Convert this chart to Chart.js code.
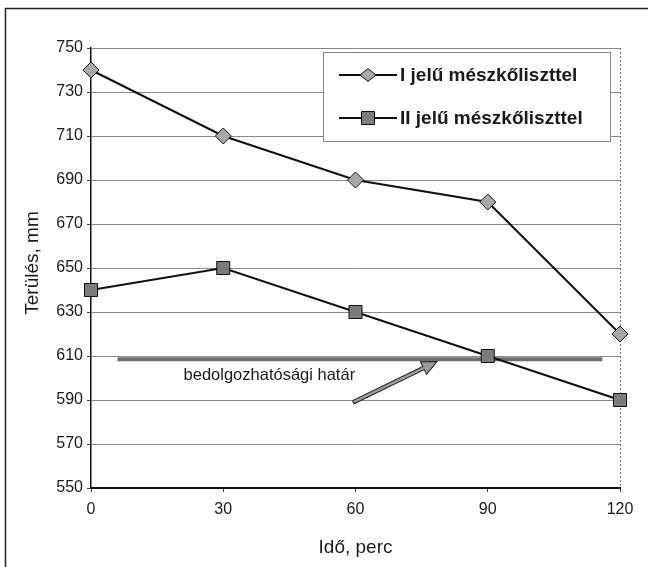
<!DOCTYPE html>
<html>
<head>
<meta charset="utf-8">
<script src="https://cdn.jsdelivr.net/npm/chart.js@4/dist/chart.umd.min.js"></script>
<style>
  html, body { margin: 0; padding: 0; background: #fff; }
  #wrap { width: 648px; height: 567px; }
</style>
</head>
<body>
<div id="wrap"><canvas id="c" width="648" height="567"></canvas></div>
<script>
// Idő (perc) and spread (mm) values
const timeMinutes = [0, 30, 60, 90, 120];
const seriesI = [740, 710, 690, 680, 620];
const seriesII = [640, 650, 630, 610, 590];
const seriesLabels = ['I jelű mészkőliszttel', 'II jelű mészkőliszttel'];

// workability limit line and its annotation
const limitValue = 608.5;
const limitFromTo = [6, 116];
const limitText = 'bedolgozhatósági határ';
const limitTextAt = [21, 601];
const arrowFrom = [59.5, 589];
const arrowTo = [78.5, 607.5];

// axis settings
const yMin = 550, yMax = 750, yStep = 20;
const xTitle = 'Idő, perc';
const yTitle = 'Terülés, mm';

const FONT = '"Liberation Sans", Arial, sans-serif';
const TXT = '#1a1a1a';

const toPts = (xs, ys) => xs.map((x, i) => ({ x: x, y: ys[i] }));

const decorations = {
  id: 'decorations',
  beforeDraw(chart) {
    const ctx = chart.ctx;
    ctx.save();
    ctx.fillStyle = '#fff';
    ctx.fillRect(0, 0, chart.width, chart.height);
    ctx.restore();
  },
  beforeDatasetsDraw(chart) {
    // dotted right edge of the plot
    const ctx = chart.ctx;
    const a = chart.chartArea;
    ctx.save();
    ctx.strokeStyle = '#777';
    ctx.lineWidth = 1;
    ctx.setLineDash([2, 2]);
    ctx.beginPath();
    ctx.moveTo(Math.round(a.right) + 0.5, a.top);
    ctx.lineTo(Math.round(a.right) + 0.5, a.bottom);
    ctx.stroke();
    ctx.restore();
  },
  afterDraw(chart) {
    const ctx = chart.ctx;
    const xs = chart.scales.x, ys = chart.scales.y;
    const a = chart.chartArea;
    ctx.save();

    // frame lines on top and left
    ctx.strokeStyle = '#222';
    ctx.lineWidth = 1.5;
    ctx.beginPath();
    ctx.moveTo(5.5, 567);
    ctx.lineTo(5.5, 8.5);
    ctx.lineTo(648, 8.5);
    ctx.stroke();

    // axis titles
    ctx.fillStyle = TXT;
    ctx.font = '19px ' + FONT;
    ctx.textAlign = 'center';
    ctx.textBaseline = 'middle';
    ctx.fillText(xTitle, (a.left + a.right) / 2, 548);
    ctx.save();
    ctx.translate(33, 263);
    ctx.rotate(-Math.PI / 2);
    ctx.fillText(yTitle, 0, 0);
    ctx.restore();

    // limit label
    ctx.font = '16.5px ' + FONT;
    ctx.textAlign = 'left';
    ctx.fillText(limitText, xs.getPixelForValue(limitTextAt[0]), ys.getPixelForValue(limitTextAt[1]));

    // block arrow pointing at the limit line
    const x0 = xs.getPixelForValue(arrowFrom[0]), y0 = ys.getPixelForValue(arrowFrom[1]);
    const x1 = xs.getPixelForValue(arrowTo[0]), y1 = ys.getPixelForValue(arrowTo[1]);
    const ang = Math.atan2(y1 - y0, x1 - x0);
    const len = Math.hypot(x1 - x0, y1 - y0);
    const headL = 15, headW = 7, shaftW = 1.8;
    ctx.save();
    ctx.translate(x0, y0);
    ctx.rotate(ang);
    ctx.beginPath();
    ctx.moveTo(0, -shaftW);
    ctx.lineTo(len - headL, -shaftW);
    ctx.lineTo(len - headL, -headW);
    ctx.lineTo(len, 0);
    ctx.lineTo(len - headL, headW);
    ctx.lineTo(len - headL, shaftW);
    ctx.lineTo(0, shaftW);
    ctx.closePath();
    ctx.fillStyle = '#9a9a9a';
    ctx.fill();
    ctx.strokeStyle = '#222';
    ctx.lineWidth = 1;
    ctx.stroke();
    ctx.restore();

    // legend box
    const bx = 323, by = 52, bw = 287, bh = 89;
    ctx.fillStyle = '#fff';
    ctx.fillRect(bx, by, bw, bh);
    ctx.strokeStyle = '#888';
    ctx.lineWidth = 1;
    ctx.strokeRect(bx + 0.5, by + 0.5, bw, bh);
    ctx.font = 'bold 19px ' + FONT;
    ctx.textBaseline = 'middle';
    ctx.textAlign = 'left';
    const rows = [75, 118];
    chart.data.datasets.slice(0, 2).forEach((ds, i) => {
      const yy = rows[i];
      ctx.strokeStyle = '#111';
      ctx.lineWidth = 2;
      ctx.beginPath();
      ctx.moveTo(339, yy);
      ctx.lineTo(397, yy);
      ctx.stroke();
      ctx.fillStyle = ds.pointBackgroundColor;
      ctx.strokeStyle = '#111';
      ctx.lineWidth = 1;
      ctx.beginPath();
      if (ds.pointStyle === 'rectRot') {
        const r = 8;
        ctx.moveTo(368 - r, yy);
        ctx.lineTo(368, yy - r * 0.8);
        ctx.lineTo(368 + r, yy);
        ctx.lineTo(368, yy + r * 0.8);
        ctx.closePath();
      } else {
        ctx.rect(368 - 6.5, yy - 6.5, 13, 13);
      }
      ctx.fill();
      ctx.stroke();
      ctx.fillStyle = TXT;
      ctx.fillText(ds.label, 400, yy + 1);
    });

    ctx.restore();
  }
};

new Chart(document.getElementById('c'), {
  type: 'line',
  data: {
    datasets: [
      {
        label: seriesLabels[0],
        data: toPts(timeMinutes, seriesI),
        borderColor: '#111',
        borderWidth: 2,
        pointStyle: 'rectRot',
        pointRadius: 8,
        pointBackgroundColor: '#a8a8a8',
        pointBorderColor: '#111',
        pointBorderWidth: 1,
        tension: 0,
        clip: false
      },
      {
        label: seriesLabels[1],
        data: toPts(timeMinutes, seriesII),
        borderColor: '#111',
        borderWidth: 2,
        pointStyle: 'rect',
        pointRadius: 9.2,
        pointBackgroundColor: '#7c7c7c',
        pointBorderColor: '#111',
        pointBorderWidth: 1,
        tension: 0,
        clip: false
      },
      {
        label: limitText,
        data: limitFromTo.map(x => ({ x: x, y: limitValue })),
        borderColor: '#6e6e6e',
        borderWidth: 4,
        pointRadius: 0,
        tension: 0
      }
    ]
  },
  options: {
    responsive: false,
    animation: false,
    devicePixelRatio: 1,
    layout: { padding: { left: 0, top: 48, right: 28, bottom: 0 } },
    plugins: { legend: { display: false }, tooltip: { enabled: false } },
    scales: {
      x: {
        type: 'linear',
        min: 0, max: 120,
        afterBuildTicks(scale) { scale.ticks = timeMinutes.map(v => ({ value: v })); },
        afterFit(scale) { scale.height = 79; },
        grid: { display: true, drawOnChartArea: false, drawTicks: true, tickLength: 4, tickColor: '#444' },
        border: { color: '#111', width: 2 },
        ticks: { color: TXT, font: { family: FONT, size: 16 }, padding: 8, maxRotation: 0 }
      },
      y: {
        min: yMin, max: yMax,
        ticks: { stepSize: yStep, color: TXT, font: { family: FONT, size: 16 }, padding: 4 },
        afterFit(scale) { scale.width = 91; },
        grid: { color: '#8a8a8a', lineWidth: 1, tickLength: 4, tickColor: '#444' },
        border: { color: '#111', width: 1.5 }
      }
    }
  },
  plugins: [decorations]
});
</script>
</body>
</html>
